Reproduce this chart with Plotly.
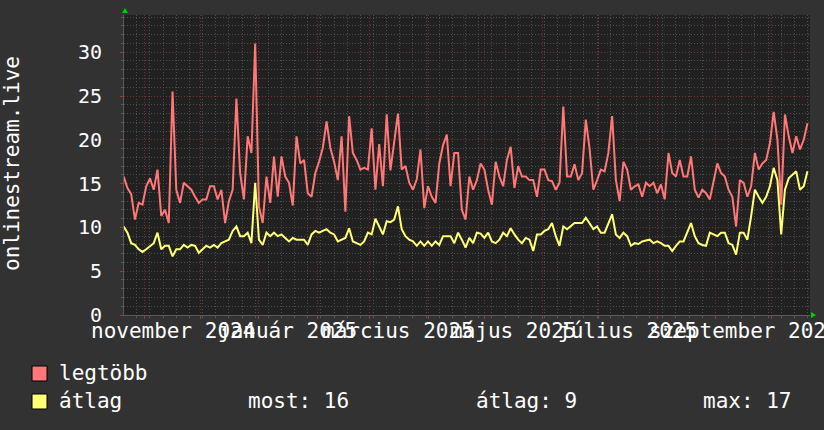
import plotly.graph_objects as go
import pandas as pd

# ---------------- data ----------------
dates = pd.date_range("2024-10-21", periods=183, freq="2D")

legtobb = [
    15.8, 14.5, 13.8, 10.9, 12.8, 12.6, 14.7, 15.6, 14.3, 16.6,
    11.3, 12.0, 10.5, 25.5, 14.3, 12.8, 15.1, 14.7, 14.3, 13.5,
    12.8, 13.2, 13.2, 14.7, 14.7, 13.2, 14.3, 10.5, 13.0, 14.3,
    24.7, 16.2, 13.2, 20.4, 18.5, 31.0, 12.4, 10.5, 15.8, 12.8,
    18.1, 13.5, 18.1, 15.8, 15.1, 12.5, 20.4, 17.3, 17.7, 13.9,
    13.5, 16.2, 17.5, 19.1, 22.1, 19.1, 17.5, 15.4, 20.4, 11.8,
    22.7, 18.5, 17.7, 16.6, 16.8, 16.6, 21.3, 14.3, 19.5, 14.7,
    22.9, 16.5, 20.0, 23.0, 16.6, 17.0, 15.1, 14.3, 15.5, 18.9,
    12.2, 14.7, 13.5, 12.8, 17.3, 19.4, 20.6, 14.7, 18.5, 18.5,
    12.0, 10.9, 15.8, 14.3, 15.4, 17.3, 16.6, 14.3, 12.6, 17.5,
    15.8, 14.7, 17.7, 19.2, 14.5, 17.0, 15.8, 15.8, 15.4, 15.4,
    13.5, 16.6, 16.6, 15.4, 15.3, 14.3, 15.1, 23.8, 15.8, 15.8,
    17.2, 15.4, 16.2, 22.3, 19.0, 14.3, 15.4, 16.6, 16.4, 18.5,
    22.7, 15.4, 13.0, 17.5, 16.6, 14.3, 14.7, 14.9, 13.5, 15.1,
    14.7, 15.1, 13.9, 14.9, 13.2, 18.5, 16.2, 15.8, 17.7, 15.8,
    15.8, 18.1, 14.3, 13.4, 14.3, 13.9, 13.2, 15.1, 17.3, 16.2,
    15.8, 14.3, 13.5, 10.1, 15.4, 15.1, 13.5, 14.7, 18.5, 16.6,
    17.3, 17.7, 19.6, 23.2, 20.0, 12.6, 22.9, 20.4, 18.5, 20.4,
    18.9, 20.0, 21.9,
]

atlag = [
    10.1, 9.4, 8.2, 8.0, 7.5, 7.2, 7.5, 7.9, 8.2, 9.4,
    7.5, 7.9, 7.9, 6.7, 7.5, 7.5, 8.0, 7.7, 8.0, 7.9,
    7.1, 7.5, 7.9, 7.7, 8.0, 7.7, 8.2, 8.4, 8.6, 9.6,
    10.1, 9.0, 9.0, 9.4, 8.2, 15.1, 8.6, 8.0, 9.4, 9.0,
    9.4, 9.0, 9.2, 8.8, 8.4, 8.8, 8.6, 8.6, 8.6, 8.0,
    9.2, 9.6, 9.4, 9.6, 9.8, 9.4, 9.2, 8.4, 8.6, 8.8,
    9.9, 8.4, 8.2, 8.0, 8.4, 9.4, 9.2, 11.0, 10.1, 9.2,
    10.7, 10.6, 10.9, 12.4, 9.8, 9.0, 8.6, 8.4, 7.9, 8.4,
    7.9, 8.4, 7.9, 8.4, 8.0, 9.0, 9.0, 9.0, 8.2, 9.4,
    8.6, 7.7, 8.8, 8.2, 9.4, 9.3, 8.8, 9.4, 8.4, 8.2,
    8.6, 9.4, 9.0, 9.9, 9.2, 8.6, 8.2, 8.8, 8.6, 7.3,
    9.2, 9.2, 9.6, 9.8, 10.5, 9.0, 7.9, 10.1, 9.8, 10.1,
    10.5, 10.5, 10.5, 11.1, 10.5, 9.8, 10.1, 9.4, 9.4, 10.5,
    11.5, 9.2, 8.8, 9.4, 9.0, 7.9, 8.2, 8.1, 8.4, 8.5,
    8.6, 8.2, 8.4, 8.2, 7.9, 7.9, 7.3, 7.9, 8.4, 8.4,
    9.4, 10.5, 9.0, 8.2, 8.0, 7.9, 9.4, 9.2, 9.0, 9.4,
    9.4, 8.2, 8.0, 6.9, 9.4, 9.4, 8.6, 11.3, 14.3, 13.5,
    12.8, 13.5, 14.7, 16.8, 15.4, 9.2, 14.3, 15.6, 16.0, 16.4,
    14.3, 14.7, 16.4,
]

x_label_text = ["november 2024", "január 2025", "március 2025",
                "május 2025", "július 2025", "szeptember 2025"]
x_label_dates = ["2024-11-16", "2025-01-16", "2025-03-16",
                 "2025-05-16", "2025-07-16", "2025-09-16"]
month_starts = pd.date_range("2024-11-01", "2025-10-01", freq="MS")
y_tick_vals = [0, 5, 10, 15, 20, 25, 30]
y_tick_text = ["0", "5", "10", "15", "20", "25", "30"]
series_names = ["legtöbb", "átlag"]
legend_stats = ["most: 16", "átlag: 9", "max: 17"]
y_title = "onlinestream.live"

# ---------------- style ----------------
FONT = "DejaVu Sans Mono"
RED = "#ff7777"
YEL = "#ffff77"
PAPER = "#323232"
PLOT = "#212121"
GRID_MAJOR = "#7a2e2e"
GRID_MINOR = "#4e4e4e"
W, H = 824, 430
L, R, T, B = 124, 14, 15, 115
PW, PH = W - L - R, H - T - B


def px(xp):
    return (xp - L) / PW


def py(yp):
    return (H - B - yp) / PH


fig = go.Figure()
fig.add_trace(go.Scatter(x=dates, y=legtobb, mode="lines", name=series_names[0],
                         line=dict(color=RED, width=2), showlegend=False,
                         hoverinfo="skip"))
fig.add_trace(go.Scatter(x=dates, y=atlag, mode="lines", name=series_names[1],
                         line=dict(color=YEL, width=2), showlegend=False,
                         hoverinfo="skip"))

annotations = []
for d, t in zip(x_label_dates, x_label_text):
    annotations.append(dict(x=d, xref="x", y=py(331), yref="paper", text=t,
                            showarrow=False, xanchor="center", yanchor="middle",
                            font=dict(family=FONT, size=21, color="#ffffff")))
annotations.append(dict(x=px(12), xref="paper", y=py(164), yref="paper", text=y_title,
                        textangle=-90, showarrow=False, xanchor="center", yanchor="middle",
                        font=dict(family=FONT, size=21, color="#ffffff")))
# legend texts
annotations.append(dict(x=px(57), xref="paper", y=py(373), yref="paper", text=series_names[0],
                        showarrow=False, xanchor="left", yanchor="middle",
                        font=dict(family=FONT, size=21, color="#ffffff")))
annotations.append(dict(x=px(57), xref="paper", y=py(401), yref="paper", text=series_names[1],
                        showarrow=False, xanchor="left", yanchor="middle",
                        font=dict(family=FONT, size=21, color="#ffffff")))
for xp, t in zip([246, 474, 701], legend_stats):
    annotations.append(dict(x=px(xp), xref="paper", y=py(401), yref="paper", text=t,
                            showarrow=False, xanchor="left", yanchor="middle",
                            font=dict(family=FONT, size=21, color="#ffffff")))

shapes = []
# green arrows
shapes.append(dict(type="path", xref="paper", yref="paper", xsizemode="pixel",
                   ysizemode="pixel", xanchor=0, yanchor=1,
                   path="M -2,2 L 4,2 L 1,7 Z", fillcolor="#00d000", line=dict(width=0)))
shapes.append(dict(type="path", xref="paper", yref="paper", xsizemode="pixel",
                   ysizemode="pixel", xanchor=1, yanchor=0,
                   path="M 1,-3 L 1,3 L 6,0 Z", fillcolor="#00d000", line=dict(width=0)))
# legend squares
for (y0, y1), col in zip([(366, 381), (394, 409)], [RED, YEL]):
    shapes.append(dict(type="rect", xref="paper", yref="paper",
                       x0=px(32), x1=px(47), y0=py(y1), y1=py(y0),
                       fillcolor=col, line=dict(color="#000000", width=1)))

fig.update_layout(
    width=W, height=H,
    margin=dict(l=L, r=R, t=T, b=B, pad=0),
    paper_bgcolor=PAPER, plot_bgcolor=PLOT,
    font=dict(family=FONT, size=20, color="#ffffff"),
    showlegend=False,
    annotations=annotations,
    shapes=shapes,
    xaxis=dict(
        type="date",
        range=["2024-10-21 04:00", "2025-10-21 08:00"],
        tickmode="array", tickvals=month_starts, showticklabels=False,
        showgrid=True, gridcolor=GRID_MAJOR, griddash="1px,2px", gridwidth=1,
        ticks="outside", ticklen=3, tickcolor="#a03838", tickwidth=1,
        showline=True, linecolor="#5a5a5a", linewidth=1,
        zeroline=False, fixedrange=True,
        minor=dict(dtick=7 * 86400000, tick0="2024-10-28", showgrid=True,
                   gridcolor=GRID_MINOR, griddash="1px,2px", gridwidth=1,
                   ticks="outside", ticklen=2, tickcolor="#5a5a5a"),
    ),
    yaxis=dict(
        range=[0, 34.25],
        tickmode="array", tickvals=y_tick_vals, ticktext=y_tick_text,
        tickfont=dict(family=FONT, size=20, color="#ffffff"),
        showgrid=True, gridcolor=GRID_MAJOR, griddash="1px,2px", gridwidth=1,
        ticks="outside", ticklen=3, tickcolor="#a03838",
        ticklabelstandoff=14,
        showline=True, linecolor="#5a5a5a", linewidth=1,
        zeroline=False, fixedrange=True,
        minor=dict(dtick=1, tick0=0, showgrid=True, gridcolor=GRID_MINOR,
                   griddash="1px,2px", gridwidth=1,
                   ticks="outside", ticklen=2, tickcolor="#5a5a5a"),
    ),
)

fig.write_html(
    "out.html",
    config={"displayModeBar": False, "staticPlot": True},
    post_script="document.body.style.margin='0';document.body.style.padding='0';"
                "document.body.style.overflow='hidden';"
                "document.body.style.background='" + PAPER + "';",
)
